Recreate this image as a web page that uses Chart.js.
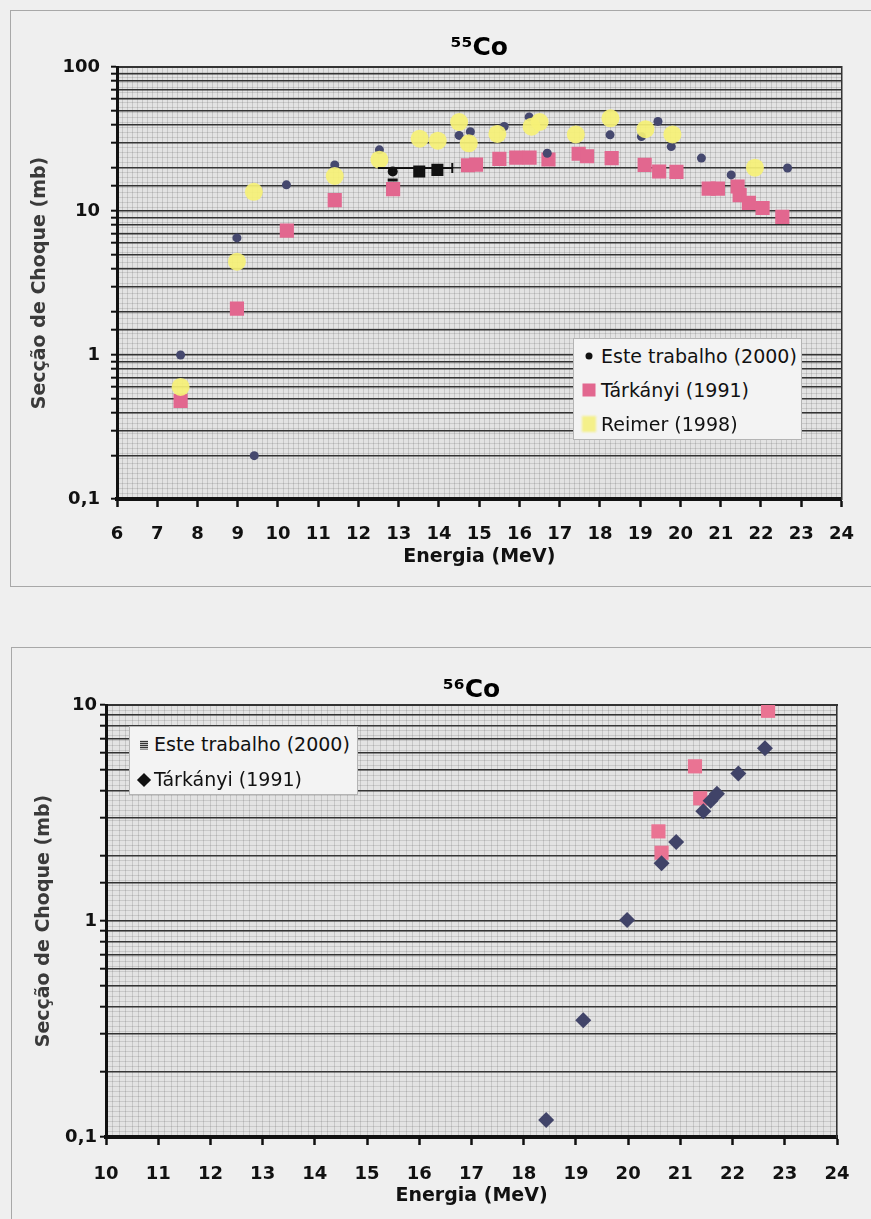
<!DOCTYPE html>
<html>
<head>
<meta charset="utf-8">
<script src="https://cdn.jsdelivr.net/npm/chart.js@4.4.1/dist/chart.umd.min.js"></script>
<style>
  body { margin: 0; background: #efefef; }
  #page { position: relative; width: 871px; height: 1219px; overflow: hidden; font-family: "DejaVu Sans", Verdana, sans-serif; }
  canvas { position: absolute; left: 0; }
  .frame { position: absolute; border: 0 solid #a8a8a8; }
  .legend { position: absolute; background: #f3f3f3; border: 1px solid #b4b4b4; font-size: 19px; color: #111; }
  .legend .row { position: relative; white-space: nowrap; }
  .mk { position: absolute; top: 50%; transform: translate(-50%, -50%); }
  .mk.dot { width: 7px; height: 7px; border-radius: 50%; background: #111; }
  .mk.sqPink { width: 13px; height: 13px; background: #e2678f; }
  .mk.sqYellow { width: 14px; height: 16px; background: #f4f08a; filter: blur(1px); }
  .mk.hatch { width: 8px; height: 9px; background: repeating-linear-gradient(0deg, #333 0 1px, #bbb 1px 2px); }
  .mk.diamond { width: 10px; height: 10px; background: #111; transform: translate(-50%, -50%) rotate(45deg); }
</style>
</head>
<body>
<div id="page">
  <div class="frame" style="left:10px; top:10px; width:861px; height:575px; border-width:1px 0 1px 1px;"></div>
  <div class="frame" style="left:11px; top:647px; width:860px; height:600px; border-width:1px 0 0 1px;"></div>
  <canvas id="co55" width="871" height="600" style="top:0"></canvas>
  <canvas id="co56" width="871" height="619" style="top:600px"></canvas>
  <div class="legend" id="leg55" style="left:573px; top:338px; width:227px; height:100px;"></div>
  <div class="legend" id="leg56" style="left:129px; top:726px; width:227px; height:67px;"></div>
</div>
<script>
// ---- 55Co ----
const xRange55 = [6, 24];
const yRange55 = [0.1, 100];
const yTickVals55 = [0.1, 1, 10, 100];
const yTickText55 = ['0,1', '1', '10', '100'];
const names55 = ['Este trabalho (2000)', 'Tárkányi (1991)', 'Reimer (1998)'];

const este55X = [7.58, 8.98, 9.41, 10.21, 11.41, 12.52, 14.5, 14.78, 15.62, 16.24, 16.69, 18.25, 19.03, 19.44, 19.77, 20.52, 21.26, 22.66];
const este55Y = [1.0, 6.5, 0.2, 15.2, 20.9, 26.6, 33.5, 35.5, 38.6, 45, 25.2, 33.8, 32.9, 41.9, 28, 23.3, 17.8, 19.9];
// pontos a preto (com barra de erro)
const este55bX = [12.85, 13.51, 13.96, 12.85];
const este55bY = [18.8, 18.8, 19.3, 16.4];
const erro55X = [12.48, 14.33];
const erro55Y = [19.9, 19.9];

const tarkanyi55X = [7.58, 8.98, 10.22, 11.41, 12.86, 14.72, 14.92, 15.5, 15.92, 16.25, 16.72, 17.47, 17.68, 18.29, 19.11, 19.47, 19.9, 20.7, 20.93, 21.42, 21.47, 21.7, 22.04, 22.53];
const tarkanyi55Y = [0.48, 2.1, 7.3, 11.9, 14.2, 20.8, 21.0, 23.0, 23.5, 23.5, 22.8, 25.0, 24.0, 23.3, 20.9, 18.8, 18.7, 14.3, 14.3, 14.8, 12.9, 11.4, 10.5, 9.1];

const reimer55X = [7.58, 8.98, 9.4, 11.41, 12.52, 13.52, 13.97, 14.5, 14.74, 15.45, 16.3, 16.5, 17.4, 18.26, 19.13, 19.8, 21.85];
const reimer55Y = [0.6, 4.45, 13.6, 17.5, 22.7, 31.8, 30.8, 41.5, 29.5, 34.3, 38.5, 41.5, 34, 44, 37, 34, 20];

// ---- 56Co ----
const xRange56 = [10, 24];
const yRange56 = [0.1, 10];
const yTickVals56 = [0.1, 1, 10];
const yTickText56 = ['0,1', '1', '10'];
const names56 = ['Este trabalho (2000)', 'Tárkányi (1991)'];

const este56X = [20.58, 20.64, 21.28, 21.38, 22.68];
const este56Y = [2.6, 2.07, 5.2, 3.7, 9.4];
const tarkanyi56X = [18.43, 19.14, 19.98, 20.64, 20.92, 21.44, 21.58, 21.7, 22.11, 22.62];
const tarkanyi56Y = [0.12, 0.347, 1.01, 1.85, 2.32, 3.22, 3.6, 3.88, 4.82, 6.3];

const toPoints = (xs, ys) => xs.map((x, i) => ({ x, y: ys[i] }));

const plotBg = {
  id: 'plotBg',
  beforeDraw(chart, args, opts) {
    const { ctx, chartArea: a } = chart;
    ctx.save();
    ctx.fillStyle = opts.color;
    ctx.fillRect(a.left, a.top, a.width, a.height);
    ctx.restore();
  }
};

const boldFont = size => ({ family: '"DejaVu Sans", Verdana, sans-serif', weight: 'bold', size });

function makeScales(c) {
  return {
    x: {
      type: 'linear', position: 'bottom', min: c.xRange[0], max: c.xRange[1],
      ticks: { stepSize: 1, autoSkip: false, maxRotation: 0, font: boldFont(18), color: '#111', padding: c.xTickPad },
      grid: { drawOnChartArea: false, tickLength: 8, tickWidth: 2.5, tickColor: '#111' },
      border: { color: '#111', width: 4 },
      title: { display: true, text: 'Energia (MeV)', font: boldFont(19), color: '#111', padding: c.xTitlePad },
      afterFit: s => { s.height = c.xHeight; }
    },
    xFine: {
      type: 'linear', position: 'top', min: c.xRange[0], max: c.xRange[1],
      ticks: { display: false, stepSize: 0.125, autoSkip: false },
      grid: { color: 'rgba(70,70,70,0.18)', lineWidth: 1, drawTicks: false },
      border: { color: '#333', width: 2 },
      afterFit: s => { s.height = 0; }
    },
    y: {
      type: 'logarithmic', position: 'left', min: c.yRange[0], max: c.yRange[1],
      ticks: {
        autoSkip: false, font: boldFont(18), color: '#111', padding: c.yTickPad,
        callback: v => {
          const i = c.yTickVals.findIndex(t => Math.abs(v - t) / t < 1e-6);
          return i < 0 ? '' : c.yTickText[i];
        }
      },
      grid: { color: '#333', lineWidth: 1.4, tickLength: 6, tickColor: '#111', tickWidth: 2 },
      border: { color: '#111', width: 3 },
      title: { display: true, text: 'Secção de Choque (mb)', font: boldFont(19), color: '#3a3a3a', padding: c.yTitlePad },
      afterFit: s => { s.width = c.yWidth; }
    },
    yFine: {
      type: 'linear', position: 'right', min: 0, max: 86,
      ticks: { display: false, stepSize: 1, autoSkip: false },
      grid: { color: 'rgba(70,70,70,0.16)', lineWidth: 1, drawTicks: false },
      border: { color: '#333', width: 1.5 },
      afterFit: s => { s.width = 0; }
    }
  };
}

new Chart(document.getElementById('co55').getContext('2d'), {
  type: 'scatter',
  data: {
    datasets: [
      { label: names55[0], data: toPoints(este55X, este55Y), pointStyle: 'circle', pointRadius: 4.5,
        backgroundColor: '#45486e', borderWidth: 0, order: 2 },
      { label: 'preto', data: toPoints(este55bX, este55bY), pointStyle: ['circle', 'rect', 'rect', 'line'],
        pointRadius: [5, 8.5, 8.5, 5], backgroundColor: '#111', borderColor: '#111', borderWidth: [0, 0, 0, 3], order: 0 },
      { label: 'erro', data: toPoints(erro55X, erro55Y), showLine: true, borderColor: '#111', borderWidth: 2,
        pointStyle: 'line', pointRotation: 90, pointRadius: [0, 5], pointBorderColor: '#111', pointBorderWidth: 2, order: 0 },
      { label: names55[1], data: toPoints(tarkanyi55X, tarkanyi55Y), pointStyle: 'rect', pointRadius: 10,
        backgroundColor: '#e2678f', borderWidth: 0, order: 3 },
      { label: names55[2], data: toPoints(reimer55X, reimer55Y), pointStyle: 'circle', pointRadius: 9,
        backgroundColor: 'rgba(246,241,118,0.92)', borderWidth: 0, order: 1 }
    ]
  },
  options: {
    responsive: false, animation: false, events: [],
    layout: { padding: { left: 0, right: 26, top: 0, bottom: 0 } },
    plugins: {
      legend: { display: false }, tooltip: { enabled: false },
      title: { display: true, text: '⁵⁵Co', fullSize: false, font: boldFont(25), color: '#000', padding: { top: 33, bottom: 4 } },
      plotBg: { color: '#e3e3e3' }
    },
    scales: makeScales({ xRange: xRange55, yRange: yRange55, yTickVals: yTickVals55, yTickText: yTickText55,
      xTickPad: 17, xTitlePad: 32, xHeight: 101, yTickPad: 11, yTitlePad: 29, yWidth: 117 })
  },
  plugins: [plotBg]
});

new Chart(document.getElementById('co56').getContext('2d'), {
  type: 'scatter',
  data: {
    datasets: [
      { label: names56[0], data: toPoints(este56X, este56Y), pointStyle: 'rect', pointRadius: 10,
        backgroundColor: '#ea7393', borderWidth: 0, order: 2 },
      { label: names56[1], data: toPoints(tarkanyi56X, tarkanyi56Y), pointStyle: 'rectRot', pointRadius: 8,
        backgroundColor: '#404368', borderWidth: 0, order: 1 }
    ]
  },
  options: {
    responsive: false, animation: false, events: [],
    layout: { padding: { left: 0, right: 34, top: 0, bottom: 0 } },
    plugins: {
      legend: { display: false }, tooltip: { enabled: false },
      title: { display: true, text: '⁵⁶Co', fullSize: false, font: boldFont(25), color: '#000', padding: { top: 75, bottom: 0 } },
      plotBg: { color: '#e3e3e3' }
    },
    scales: makeScales({ xRange: xRange56, yRange: yRange56, yTickVals: yTickVals56, yTickText: yTickText56,
      xTickPad: 19, xTitlePad: 12, xHeight: 82, yTickPad: 3, yTitlePad: 33, yWidth: 106 })
  },
  plugins: [plotBg]
});

// legendas em HTML, construídas a partir dos nomes das séries
function buildLegend(id, names, markers, rowH, markX, textX) {
  const box = document.getElementById(id);
  names.forEach((name, i) => {
    const row = document.createElement('div');
    row.className = 'row';
    row.style.height = rowH + 'px';
    row.style.lineHeight = rowH + 'px';
    row.style.paddingLeft = textX + 'px';
    const mk = document.createElement('span');
    mk.className = 'mk ' + markers[i];
    mk.style.left = markX + 'px';
    row.appendChild(mk);
    row.appendChild(document.createTextNode(name));
    box.appendChild(row);
  });
}
buildLegend('leg55', names55, ['dot', 'sqPink', 'sqYellow'], 34, 15, 27);
buildLegend('leg56', names56, ['hatch', 'diamond'], 35, 14, 24);
</script>
</body>
</html>
